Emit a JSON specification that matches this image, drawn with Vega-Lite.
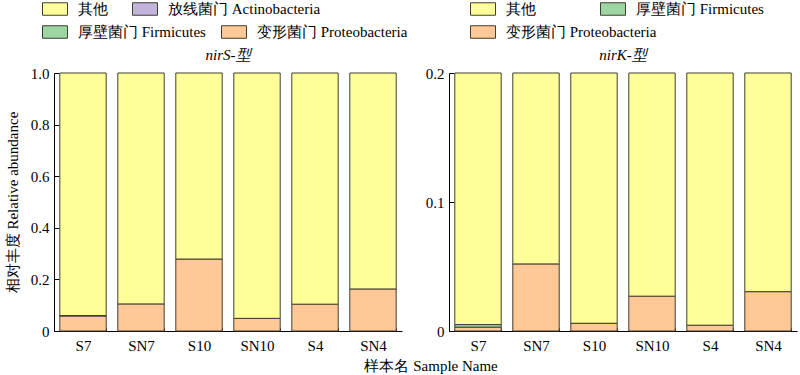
{
  "$schema": "https://vega.github.io/schema/vega-lite/v6.json",
  "padding": {"left": 5, "top": -4, "right": 2, "bottom": 0},
  "background": "white",
  "config": {
    "font": "Liberation Serif",
    "view": {"stroke": null},
    "axis": {"grid": false, "domainColor": "#000", "tickColor": "#000", "labelColor": "#000", "titleColor": "#000", "labelFont": "Liberation Serif", "titleFont": "Liberation Serif", "labelFontSize": 15, "titleFontSize": 15, "titleFontWeight": "normal"},
    "legend": {"labelFont": "Liberation Serif", "labelFontSize": 15, "labelColor": "#000", "title": null, "orient": "none", "direction": "horizontal", "padding": 0,
               "symbolType": "M-1,-0.5H1V0.5H-1Z", "symbolSize": 625, "symbolStrokeColor": "#3f3f2f", "symbolStrokeWidth": 1, "symbolOpacity": 1, "labelOffset": 10},
    "title": {"font": "Liberation Serif", "fontSize": 15, "fontWeight": "normal", "color": "#000"}
  },
  "title": {"text": "样本名 Sample Name", "orient": "bottom", "anchor": "middle", "dx": 30, "offset": 6, "fontSize": 15},
  "datasets": {
    "nirS": [
      {"sample": "S7", "phylum": "变形菌门 Proteobacteria", "value": 0.059},
      {"sample": "S7", "phylum": "厚壁菌门 Firmicutes", "value": 0.0},
      {"sample": "S7", "phylum": "放线菌门 Actinobacteria", "value": 0.001},
      {"sample": "S7", "phylum": "其他", "value": 0.94},
      {"sample": "SN7", "phylum": "变形菌门 Proteobacteria", "value": 0.105},
      {"sample": "SN7", "phylum": "其他", "value": 0.895},
      {"sample": "S10", "phylum": "变形菌门 Proteobacteria", "value": 0.279},
      {"sample": "S10", "phylum": "其他", "value": 0.721},
      {"sample": "SN10", "phylum": "变形菌门 Proteobacteria", "value": 0.049},
      {"sample": "SN10", "phylum": "其他", "value": 0.951},
      {"sample": "S4", "phylum": "变形菌门 Proteobacteria", "value": 0.104},
      {"sample": "S4", "phylum": "其他", "value": 0.896},
      {"sample": "SN4", "phylum": "变形菌门 Proteobacteria", "value": 0.163},
      {"sample": "SN4", "phylum": "其他", "value": 0.837}
    ],
    "nirK": [
      {"sample": "S7", "phylum": "变形菌门 Proteobacteria", "value": 0.003},
      {"sample": "S7", "phylum": "厚壁菌门 Firmicutes", "value": 0.002},
      {"sample": "S7", "phylum": "其他", "value": 0.195},
      {"sample": "SN7", "phylum": "变形菌门 Proteobacteria", "value": 0.052},
      {"sample": "SN7", "phylum": "其他", "value": 0.148},
      {"sample": "S10", "phylum": "变形菌门 Proteobacteria", "value": 0.006},
      {"sample": "S10", "phylum": "其他", "value": 0.194},
      {"sample": "SN10", "phylum": "变形菌门 Proteobacteria", "value": 0.027},
      {"sample": "SN10", "phylum": "其他", "value": 0.173},
      {"sample": "S4", "phylum": "变形菌门 Proteobacteria", "value": 0.0045},
      {"sample": "S4", "phylum": "其他", "value": 0.1955},
      {"sample": "SN4", "phylum": "变形菌门 Proteobacteria", "value": 0.0305},
      {"sample": "SN4", "phylum": "其他", "value": 0.1695}
    ]
  },
  "bounds": "flush",
  "spacing": 47,
  "hconcat": [
    {
      "width": 348,
      "height": 258,
      "title": {"text": "nirS-型", "fontStyle": "italic", "offset": -67},
      "data": {"name": "nirS"},
      "transform": [
        {"calculate": "indexof(['变形菌门 Proteobacteria','厚壁菌门 Firmicutes','放线菌门 Actinobacteria','其他'], datum.phylum)", "as": "stackorder"}
      ],
      "encoding": {
        "x": {"field": "sample", "type": "nominal", "sort": ["S7", "SN7", "S10", "SN10", "S4", "SN4"],
              "scale": {"paddingInner": 0.2, "paddingOuter": 0.1},
              "axis": {"title": null, "labelAngle": 0, "tickBand": "extent", "tickSize": -3, "labelPadding": 10}},
        "y": {"field": "value", "type": "quantitative", "stack": "zero",
              "scale": {"domain": [0, 1], "nice": false},
              "axis": {"title": "相对丰度 Relative abundance", "values": [0, 0.2, 0.4, 0.6, 0.8, 1.0], "tickSize": -5, "labelPadding": 10, "titlePadding": 10,
                       "labelExpr": "datum.value == 0 ? '0' : format(datum.value, '.1f')"}},
        "order": {"field": "stackorder", "type": "quantitative"}
      },
      "layer": [
        {
          "mark": {"type": "bar", "stroke": "#3f3f2f", "strokeWidth": 1},
          "encoding": {
            "color": {"field": "phylum", "type": "nominal",
                      "scale": {"domain": ["其他", "放线菌门 Actinobacteria", "厚壁菌门 Firmicutes", "变形菌门 Proteobacteria"],
                                "range": ["#FFFF99", "#C3B4DE", "#9DD6A2", "#FFC896"]},
                      "legend": {"values": ["其他", "放线菌门 Actinobacteria"], "legendX": -12, "legendY": -77, "columns": 2, "gridAlign": "none", "columnPadding": 22}}
          }
        },
        {
          "mark": {"type": "bar", "opacity": 0},
          "encoding": {
            "fill": {"field": "phylum", "type": "nominal",
                     "scale": {"domain": ["变形菌门 Proteobacteria", "厚壁菌门 Firmicutes", "放线菌门 Actinobacteria", "其他"],
                               "range": ["#FFC896", "#9DD6A2", "#C3B4DE", "#FFFF99"]},
                     "legend": {"values": ["厚壁菌门 Firmicutes", "变形菌门 Proteobacteria"], "legendX": -12, "legendY": -54, "columns": 2, "gridAlign": "none", "columnPadding": 13}}
          }
        }
      ]
    },
    {
      "width": 348,
      "height": 258,
      "title": {"text": "nirK-型", "fontStyle": "italic", "offset": -67},
      "data": {"name": "nirK"},
      "transform": [
        {"calculate": "indexof(['变形菌门 Proteobacteria','厚壁菌门 Firmicutes','放线菌门 Actinobacteria','其他'], datum.phylum)", "as": "stackorder"}
      ],
      "encoding": {
        "x": {"field": "sample", "type": "nominal", "sort": ["S7", "SN7", "S10", "SN10", "S4", "SN4"],
              "scale": {"paddingInner": 0.2, "paddingOuter": 0.1},
              "axis": {"title": null, "labelAngle": 0, "tickBand": "extent", "tickSize": -3, "labelPadding": 10}},
        "y": {"field": "value", "type": "quantitative", "stack": "zero",
              "scale": {"domain": [0, 0.2], "nice": false},
              "axis": {"title": null, "values": [0, 0.1, 0.2], "tickSize": -5, "labelPadding": 10,
                       "labelExpr": "datum.value == 0 ? '0' : format(datum.value, '.1f')"}},
        "order": {"field": "stackorder", "type": "quantitative"}
      },
      "layer": [
        {
          "mark": {"type": "bar", "stroke": "#3f3f2f", "strokeWidth": 1},
          "encoding": {
            "color": {"field": "phylum", "type": "nominal",
                      "scale": {"domain": ["其他", "厚壁菌门 Firmicutes", "变形菌门 Proteobacteria"],
                                "range": ["#FFFF99", "#9DD6A2", "#FFC896"]},
                      "legend": {"values": ["其他", "厚壁菌门 Firmicutes"], "legendX": 21, "legendY": -77, "columns": 2, "gridAlign": "none", "columnPadding": 62}}
          }
        },
        {
          "mark": {"type": "bar", "opacity": 0},
          "encoding": {
            "fill": {"field": "phylum", "type": "nominal",
                     "scale": {"domain": ["变形菌门 Proteobacteria", "厚壁菌门 Firmicutes", "其他"],
                               "range": ["#FFC896", "#9DD6A2", "#FFFF99"]},
                     "legend": {"values": ["变形菌门 Proteobacteria"], "legendX": 21, "legendY": -54}}
          }
        }
      ]
    }
  ],
  "resolve": {"scale": {"color": "independent", "fill": "independent", "y": "independent"}, "legend": {"color": "independent", "fill": "independent"}}
}
